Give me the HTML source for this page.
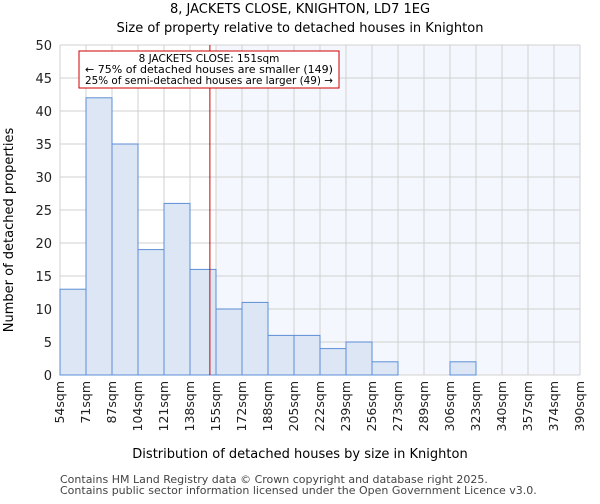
<!DOCTYPE html>
<html><head><meta charset="utf-8"><style>
body{margin:0;background:#fff;font-family:"DejaVu Sans","Liberation Sans",sans-serif}
</style></head><body>
<svg id="c" width="600" height="500" xmlns="http://www.w3.org/2000/svg" font-family="DejaVu Sans, Liberation Sans, sans-serif"></svg>
<script>
const binLabels=["54sqm","71sqm","87sqm","104sqm","121sqm","138sqm","155sqm","172sqm","188sqm","205sqm","222sqm","239sqm","256sqm","273sqm","289sqm","306sqm","323sqm","340sqm","357sqm","374sqm","390sqm"];
const counts=[13,42,35,19,26,16,10,11,6,6,4,5,2,0,0,2,0,0,0,0];
const yTicks=[0,5,10,15,20,25,30,35,40,45,50];
const markerBin=5, markerFrac=(151-138)/(155-138);
const svg=document.getElementById('c');
const NS='http://www.w3.org/2000/svg';
const L=60,R=580,T=45,B=375,yMax=50;
const bw=(R-L)/counts.length;
const x=i=>L+i*bw;
const y=v=>B-(v/yMax)*(B-T);
function mk(t,a,txt){const e=document.createElementNS(NS,t);for(const k in a)e.setAttribute(k,a[k]);if(txt!=null)e.textContent=txt;svg.appendChild(e);return e;}
let e;
e=mk('rect',{x:x(markerBin+1),y:T,width:R-x(markerBin+1),height:B-T,fill:'#f4f7fd'});


for(let i=0;i<=counts.length;i++){e=mk('line',{x1:x(i),x2:x(i),y1:T,y2:B,stroke:'#d0d0d0','stroke-width':1});

}
yTicks.forEach(v=>{e=mk('line',{x1:L,x2:R,y1:y(v),y2:y(v),stroke:'#d0d0d0','stroke-width':1});


e=mk('text',{x:L-8,y:y(v)+5,'text-anchor':'end','font-size':13,fill:'#222'},v);

});
counts.forEach((c,i)=>{if(c<=0)return;e=mk('rect',{x:x(i),y:y(c),width:bw,height:B-y(c),fill:'#dce6f4',stroke:'#5b8fd6','stroke-width':1});

});
binLabels.forEach((l,i)=>{const xx=x(i)+4;e=mk('text',{x:xx,y:381,'text-anchor':'end','font-size':12.5,fill:'#222',transform:`rotate(-90 ${xx} 381)`},l);

});
const mx=x(markerBin)+markerFrac*bw;
e=mk('line',{x1:mx,x2:mx,y1:T,y2:B,stroke:'#cc0000','stroke-width':1});


e=mk('rect',{x:79,y:51,width:260,height:37,fill:'#fff',stroke:'#cc0000','stroke-width':1});


[["8 JACKETS CLOSE: 151sqm",62],["← 75% of detached houses are smaller (149)",73],["25% of semi-detached houses are larger (49) →",84]].forEach(([t,yy])=>{e=mk('text',{x:209,y:yy,'text-anchor':'middle','font-size':10.5,'textLength':248,'lengthAdjust':'spacingAndGlyphs',fill:'#000'},t);
if(yy===62){e.removeAttribute('textLength');e.removeAttribute('lengthAdjust');}

});
e=mk('text',{x:300,y:13,'text-anchor':'middle','font-size':13,fill:'#000'},"8, JACKETS CLOSE, KNIGHTON, LD7 1EG");


e=mk('text',{x:300,y:32,'text-anchor':'middle','font-size':13,fill:'#000'},"Size of property relative to detached houses in Knighton");


e=mk('text',{x:300,y:458,'text-anchor':'middle','font-size':13,fill:'#000'},"Distribution of detached houses by size in Knighton");


e=mk('text',{x:13,y:230,'text-anchor':'middle','font-size':13,fill:'#000',transform:'rotate(-90 13 230)'},"Number of detached properties");


e=mk('text',{x:60,y:483,'font-size':11,fill:'#444'},"Contains HM Land Registry data © Crown copyright and database right 2025.");


e=mk('text',{x:60,y:494,'font-size':11,fill:'#444'},"Contains public sector information licensed under the Open Government Licence v3.0.");


</script>
</body></html>
